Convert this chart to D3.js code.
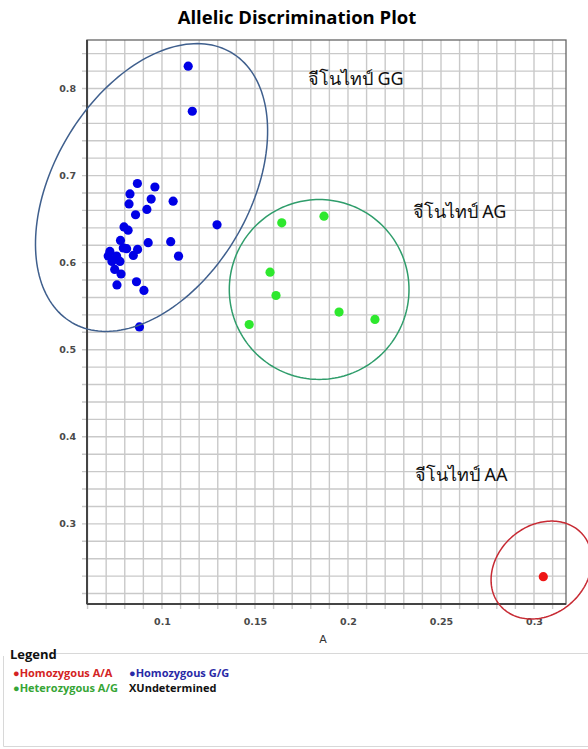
<!DOCTYPE html>
<html><head><meta charset="utf-8">
<script src="https://cdn.jsdelivr.net/npm/d3@7"></script>
<style>
html,body{margin:0;padding:0;background:#fff;}
svg{display:block;}
</style></head>
<body>
<svg id="chart" width="588" height="749"></svg>
<script>
// ---- data ----
const homGG = [
  [0.1141,0.8256],[0.1163,0.7739],[0.0868,0.6909],[0.0962,0.6869],[0.0828,0.6789],
  [0.0942,0.6730],[0.0823,0.6674],[0.1060,0.6706],[0.0919,0.6611],[0.0858,0.6550],
  [0.0796,0.6410],[0.0818,0.6373],[0.1296,0.6435],[0.0777,0.6255],[0.0926,0.6229],
  [0.1047,0.6241],[0.0720,0.6129],[0.0792,0.6169],[0.0869,0.6152],[0.0846,0.6083],
  [0.0756,0.6075],[0.0711,0.6077],[0.1089,0.6075],[0.0746,0.5922],[0.0780,0.5870],
  [0.0758,0.5744],[0.0863,0.5781],[0.0903,0.5681],[0.0879,0.5262],[0.0731,0.6014],
  [0.0810,0.6160],[0.0774,0.6014]
];
const hetAG = [
  [0.1644,0.6458],[0.1871,0.6534],[0.1581,0.5891],[0.1613,0.5623],
  [0.1952,0.5432],[0.2145,0.5348],[0.1469,0.5290]
];
const homAA = [[0.3050,0.2394]];
const xDomain = [0.0597, 0.3172];
const yDomain = [0.208, 0.8557];
const xTickLabels = [0.1, 0.15, 0.2, 0.25, 0.3];
const yTickLabels = [0.3, 0.4, 0.5, 0.6, 0.7, 0.8];
const xGrid = d3.range(6, 32).map(v => v / 100);
const yGrid = d3.range(11, 43).map(v => v * 2 / 100);
// cluster ellipses: center and two conjugate half-axes, in data units
const ellipses = [
  {name:"GG", c:[0.0944,0.6863], u:[0.0428,0.1551], v:[0.0454,-0.0571], color:"#3f5f8d"},
  {name:"AG", c:[0.1845,0.5692], u:[0.0483,0], v:[0,0.1033], color:"#2f9d6b"},
  {name:"AA", c:[0.3040,0.2470], u:[0.02269,0.0395], v:[0.01478,-0.0400], color:"#c72a33"}
];
const annotations = [
  {text:"จีโนไทป์ GG", x:0.1784, y:0.8035},
  {text:"จีโนไทป์ AG", x:0.2347, y:0.6508},
  {text:"จีโนไทป์ AA", x:0.2360, y:0.3495}
];
const legendItems = [
  {label:"Homozygous A/A", symbol:"●", color:"#d42323", row:0, col:0},
  {label:"Homozygous G/G", symbol:"●", color:"#2a2aa6", row:0, col:1},
  {label:"Heterozygous A/G", symbol:"●", color:"#36a536", row:1, col:0},
  {label:"Undetermined", symbol:"X", color:"#111111", row:1, col:1}
];

// ---- layout ----
const svg = d3.select("#chart");
const pL = 87, pT = 40, pR = 566, pB = 604;
const x = d3.scaleLinear().domain(xDomain).range([pL, pR]);
const y = d3.scaleLinear().domain(yDomain).range([pB, pT]);

// title
svg.append("text").attr("x", 297).attr("y", 24).attr("text-anchor","middle")
  .attr("font-family","'Open Sans', 'Noto Sans', sans-serif").attr("font-weight","bold")
  .attr("font-size", 18.5).attr("fill","#000").text("Allelic Discrimination Plot");

// grid
const g = svg.append("g");
g.selectAll("line.vx").data(xGrid).join("line").attr("class","vx")
  .attr("x1", d => x(d)).attr("x2", d => x(d)).attr("y1", pT).attr("y2", pB + 5)
  .attr("stroke","#c9c9c9").attr("stroke-width",1.4);
g.selectAll("line.hy").data(yGrid).join("line").attr("class","hy")
  .attr("y1", d => y(d)).attr("y2", d => y(d)).attr("x1", pL - 5).attr("x2", pR)
  .attr("stroke","#c9c9c9").attr("stroke-width",1.4);

// frame
g.append("rect").attr("x", pL).attr("y", pT).attr("width", pR-pL).attr("height", pB-pT)
  .attr("fill","none").attr("stroke","#666").attr("stroke-width",1.3);
g.append("line").attr("x1",pL).attr("x2",pL).attr("y1",pT).attr("y2",pB).attr("stroke","#444").attr("stroke-width",2);
g.append("line").attr("x1",pL).attr("x2",pR).attr("y1",pB).attr("y2",pB).attr("stroke","#444").attr("stroke-width",2);

// axes labels
const xAxis = d3.axisBottom(x).tickValues(xTickLabels).tickSize(0).tickPadding(14).tickFormat(d3.format("~g"));
const xa = svg.append("g").attr("transform",`translate(0,${pB})`).call(xAxis);
xa.select(".domain").remove();
xa.selectAll("text").attr("font-family","'DejaVu Sans', sans-serif").attr("font-size",9.5).attr("font-weight","bold").attr("fill","#4a4a4a");
const yAxis = d3.axisLeft(y).tickValues(yTickLabels).tickSize(0).tickPadding(11).tickFormat(d3.format("~g"));
const ya = svg.append("g").attr("transform",`translate(${pL},0)`).call(yAxis);
ya.select(".domain").remove();
ya.selectAll("text").attr("font-family","'DejaVu Sans', sans-serif").attr("font-size",9.5).attr("font-weight","bold").attr("fill","#4a4a4a");

svg.append("text").attr("x", 323).attr("y", 643)
  .attr("text-anchor","middle").attr("font-family","'DejaVu Sans', sans-serif")
  .attr("font-size",11).attr("fill","#333").text("A");

// points
const dots = svg.append("g");
dots.selectAll("circle.gg").data(homGG).join("circle").attr("class","gg")
  .attr("cx", d => x(d[0])).attr("cy", d => y(d[1])).attr("r", 4.6).attr("fill","#0000e6");
dots.selectAll("circle.ag").data(hetAG).join("circle").attr("class","ag")
  .attr("cx", d => x(d[0])).attr("cy", d => y(d[1])).attr("r", 4.6).attr("fill","#2ee82e");
dots.selectAll("circle.aa").data(homAA).join("circle").attr("class","aa")
  .attr("cx", d => x(d[0])).attr("cy", d => y(d[1])).attr("r", 4.6).attr("fill","#ee1515");

// ellipses
const line = d3.line().x(d => x(d[0])).y(d => y(d[1])).curve(d3.curveLinearClosed);
const ts = d3.range(0, 360, 2).map(a => a * Math.PI / 180);
svg.append("g").selectAll("path").data(ellipses).join("path")
  .attr("d", e => line(ts.map(t => [
      e.c[0] + e.u[0]*Math.cos(t) + e.v[0]*Math.sin(t),
      e.c[1] + e.u[1]*Math.cos(t) + e.v[1]*Math.sin(t)])))
  .attr("fill","none").attr("stroke", e => e.color).attr("stroke-width",1.5);

// annotations
svg.append("g").selectAll("text").data(annotations).join("text")
  .attr("x", d => x(d.x)).attr("y", d => y(d.y))
  .attr("font-family","Tahoma, 'Noto Sans', sans-serif").attr("font-size",18).attr("fill","#111")
  .text(d => d.text);

// legend
const lg = svg.append("g");
lg.append("path").attr("d","M56,653.5 H590 M3.5,656 V746.5 H590")
  .attr("fill","none").attr("stroke","#d8d8d8").attr("stroke-width",1);
lg.append("text").attr("x",10).attr("y",659).attr("font-family","'Open Sans', 'Noto Sans', sans-serif")
  .attr("font-weight","bold").attr("font-size",13).attr("fill","#111").text("Legend");
const li = lg.selectAll("g.item").data(legendItems).join("g").attr("class","item")
  .attr("transform", d => `translate(${d.col ? 129 : 13},${d.row ? 692 : 677})`);
li.append("text").attr("font-family","'Open Sans', 'Noto Sans', sans-serif").attr("font-weight","bold")
  .attr("font-size",11).attr("fill", d => d.color)
  .text(d => d.symbol + d.label);
</script>
</body></html>
